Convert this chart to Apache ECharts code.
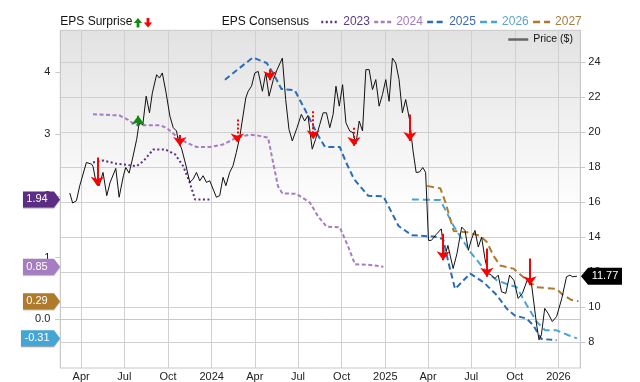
<!DOCTYPE html>
<html><head><meta charset="utf-8">
<script src="https://cdn.jsdelivr.net/npm/echarts@6/dist/echarts.min.js"></script>
<style>html,body{margin:0;padding:0;background:#fff}#c{width:640px;height:382px}</style>
</head><body><div id="c"></div>
<script>
const FONT = "'Liberation Sans', Arial, sans-serif";

// Price ($) weekly closes [date, price]
const priceData = [
['2023-03-08',16.53],['2023-03-14',15.96],['2023-03-22',16.09],['2023-03-29',16.95],
['2023-04-12',18.28],['2023-04-23',18.18],['2023-04-26',18.05],['2023-05-03',17.04],
['2023-05-09',16.95],['2023-05-17',17.71],['2023-05-25',16.38],['2023-06-01',17.14],
['2023-06-13',17.94],['2023-06-20',16.29],['2023-06-29',17.52],['2023-07-04',17.99],
['2023-07-11',17.67],['2023-07-18',18.47],['2023-07-27',19.60],['2023-08-01',20.51],
['2023-08-09',20.46],['2023-08-16',22.07],['2023-08-23',21.12],['2023-08-29',22.26],
['2023-09-07',23.30],['2023-09-13',23.11],['2023-09-19',23.40],['2023-09-27',22.26],
['2023-10-05',20.93],['2023-10-12',20.27],['2023-10-19',20.08],['2023-10-22',19.60],
['2023-10-30',19.04],['2023-11-03',18.94],['2023-11-08',18.09],['2023-11-16',17.14],
['2023-11-23',17.33],['2023-11-30',17.71],['2023-12-07',17.23],['2023-12-14',17.52],
['2023-12-21',17.14],['2023-12-28',17.23],['2024-01-04',16.76],['2024-01-11',16.29],
['2024-01-18',16.38],['2024-01-25',17.43],['2024-01-31',16.95],['2024-02-08',17.71],
['2024-02-15',18.09],['2024-02-22',18.85],['2024-02-29',19.70],['2024-03-07',20.93],
['2024-03-13',21.98],['2024-03-18',22.35],['2024-03-25',22.64],['2024-04-01',23.40],
['2024-04-08',23.49],['2024-04-17',22.35],['2024-04-24',23.40],['2024-05-01',22.07],
['2024-05-10',23.02],['2024-05-18',23.59],['2024-05-29',24.25],['2024-06-05',21.88],
['2024-06-12',20.17],['2024-06-19',19.51],['2024-06-29',20.27],['2024-07-08',21.03],
['2024-07-15',20.65],['2024-07-22',20.97],['2024-07-31',19.04],['2024-08-07',19.60],
['2024-08-16',20.46],['2024-08-23',21.12],['2024-08-30',21.12],['2024-09-06',20.27],
['2024-09-13',21.03],['2024-09-19',22.64],['2024-09-26',21.50],['2024-10-03',22.73],
['2024-10-10',20.55],['2024-10-18',20.08],['2024-10-25',19.98],['2024-10-31',19.32],
['2024-11-07',20.65],['2024-11-14',20.08],['2024-11-21',23.59],['2024-11-28',23.59],
['2024-12-05',22.45],['2024-12-12',23.02],['2024-12-19',21.50],['2024-12-26',22.16],
['2025-01-02',23.02],['2025-01-09',21.78],['2025-01-16',24.25],['2025-01-23',23.97],
['2025-01-30',23.02],['2025-02-06',21.12],['2025-02-13',21.88],['2025-02-21',20.74],
['2025-02-28',19.04],['2025-03-07',17.71],['2025-03-14',17.73],['2025-03-21',17.99],
['2025-03-27',17.71],['2025-04-02',13.82],['2025-04-08',13.82],['2025-04-18',14.15],
['2025-04-29',14.48],['2025-05-06',12.87],['2025-05-13',13.53],['2025-05-24',12.21],
['2025-06-01',13.06],['2025-06-11',14.58],['2025-06-18',14.39],['2025-06-25',13.25],
['2025-07-02',13.92],['2025-07-09',14.39],['2025-07-16',13.44],['2025-07-23',14.01],
['2025-07-30',12.78],['2025-08-06',11.92],['2025-08-13',11.83],['2025-08-20',11.64],
['2025-08-27',11.83],['2025-09-03',10.88],['2025-09-12',10.79],['2025-09-20',11.83],
['2025-09-29',11.54],['2025-10-08',10.50],['2025-10-17',10.79],['2025-10-27',11.54],
['2025-11-05',11.36],['2025-11-16',8.98],['2025-11-21',8.13],['2025-11-26',8.42],
['2025-12-03',9.93],['2025-12-10',9.65],['2025-12-19',9.18],['2025-12-28',9.46],
['2026-01-08',10.50],['2026-01-18',11.74],['2026-01-25',11.83],['2026-01-31',11.74],
['2026-02-09',11.77]
];

// EPS consensus by fiscal year [date, EPS]
const eps2023 = [
['2023-04-26',2.54],['2023-05-17',2.57],['2023-06-14',2.52],['2023-07-27',2.48],
['2023-08-10',2.56],['2023-08-31',2.75],['2023-09-25',2.75],['2023-10-16',2.67],
['2023-11-02',2.48],['2023-11-16',2.21],['2023-11-27',1.94],['2023-12-28',1.94]
];
const eps2024 = [
['2023-04-26',3.32],['2023-06-21',3.30],['2023-07-09',3.23],['2023-07-23',3.15],
['2023-08-10',3.14],['2023-09-14',3.14],['2023-09-28',3.10],['2023-10-19',2.96],
['2023-11-09',2.86],['2023-11-30',2.79],['2023-12-28',2.79],['2024-01-25',2.83],
['2024-02-22',2.94],['2024-03-21',2.99],['2024-04-11',2.97],['2024-04-29',2.94],
['2024-05-10',2.52],['2024-05-20',2.15],['2024-05-29',2.04],['2024-06-28',2.03],
['2024-07-26',1.89],['2024-08-12',1.67],['2024-08-30',1.50],['2024-09-27',1.49],
['2024-10-15',1.17],['2024-10-29',0.89],['2024-11-30',0.88],['2024-12-28',0.85]
];
const eps2025 = [
['2024-01-29',3.88],['2024-02-29',4.07],['2024-03-28',4.24],['2024-04-26',4.15],
['2024-05-10',3.98],['2024-05-27',3.73],['2024-06-24',3.71],['2024-07-12',3.45],
['2024-07-30',3.18],['2024-08-09',3.02],['2024-08-27',2.79],['2024-09-27',2.79],
['2024-10-11',2.53],['2024-10-27',2.27],['2024-11-26',2.00],['2024-12-28',1.99],
['2025-01-11',1.78],['2025-01-29',1.51],['2025-02-26',1.36],['2025-04-12',1.34],
['2025-05-03',1.30],['2025-05-14',0.92],['2025-05-28',0.49],['2025-06-29',0.74],
['2025-07-27',0.60],['2025-08-24',0.39],['2025-09-14',0.17],['2025-10-01',0.06],
['2025-10-26',0.01],['2025-11-09',-0.10],['2025-11-26',-0.32],['2025-12-28',-0.34]
];
const eps2026 = [
['2025-02-26',1.94],['2025-04-27',1.93],['2025-05-25',1.51],['2025-06-29',1.09],
['2025-08-03',0.76],['2025-08-24',0.63],['2025-09-14',0.57],['2025-10-05',0.52],
['2025-10-26',0.23],['2025-11-16',-0.04],['2025-12-04',-0.18],['2025-12-28',-0.18],
['2026-01-22',-0.26],['2026-02-09',-0.31]
];
const eps2027 = [
['2025-03-30',2.16],['2025-04-27',2.12],['2025-05-08',1.89],['2025-05-25',1.43],
['2025-06-22',1.41],['2025-07-20',1.35],['2025-08-03',1.25],['2025-08-17',1.03],
['2025-08-31',0.87],['2025-09-28',0.82],['2025-10-19',0.68],['2025-11-16',0.52],
['2025-12-28',0.49],['2026-01-11',0.39],['2026-01-29',0.31],['2026-02-12',0.29]
];

// EPS surprise arrows drawn on the price scale: [date, from, to, style, direction]
const surprises = [
['2023-05-05',18.56,16.95,'solid','down'],
['2023-07-30',20.35,20.95,'solid','up'],
['2023-10-26',19.85,19.22,'solid','down'],
['2024-02-24',20.74,19.42,'dotted','down'],
['2024-05-03',23.60,22.98,'solid','down'],
['2024-08-02',21.21,19.60,'dotted','down'],
['2024-10-27',20.27,19.22,'dotted','down'],
['2025-02-22',21.03,19.51,'solid','down'],
['2025-05-03',14.20,12.68,'solid','down'],
['2025-08-03',13.35,11.74,'solid','down'],
['2025-11-02',12.78,11.26,'solid','down']
];

const epsTicks = [0,1,2,3,4];
const priceTicks = [8,10,12,14,16,18,20,22,24];
const yearNames = ['2023','2024','2025','2026','2027'];
const monthNames = ['Jan','Feb','Mar','Apr','May','Jun','Jul','Aug','Sep','Oct','Nov','Dec'];

const epsSets = [eps2023, eps2024, eps2025, eps2026, eps2027];
const lineColors = ['#5c2d84','#a67dc2','#2b6cb8','#45a6d6','#b07a2d'];
const textColors = ['#5b3a87','#a27bbd','#3b68ad','#5ba5cf','#a97c3d'];
const dashes = [[2,2.5],[4,2.5],[6,3.5],[7,4],[7,4]];
const badgeYears = ['2023','2024','2027','2026'];

const chart = echarts.init(document.getElementById('c'));

const series = epsSets.map((d,i)=>({
  name: yearNames[i], type:'line', yAxisIndex:0, data:d, symbol:'none',
  lineStyle:{color:lineColors[i], width:2, type:dashes[i]}, itemStyle:{color:lineColors[i]},
  silent:true, z:2
}));
series.push({
  name:'Price ($)', type:'line', yAxisIndex:1, data:priceData, symbol:'none',
  lineStyle:{color:'#111', width:1}, itemStyle:{color:'#111'}, silent:true, z:3,
  markLine:{
    silent:true, symbol:['none','arrow'], symbolSize:[10,9], animation:false,
    label:{show:false}, emphasis:{disabled:true},
    data: surprises.map(s=>{
      const col = s[4]==='up' ? '#118a11' : '#ff0000';
      return [{coord:[s[0],s[1]], lineStyle:{color:col, width:2, type:s[3]==='dotted'?[2,2]:'solid'}, itemStyle:{color:col}},
              {coord:[s[0],s[2]]}];
    })
  }
});

const hiddenSymbol = {color:'rgba(0,0,0,0)', borderColor:'rgba(0,0,0,0)', borderWidth:0, opacity:0};

chart.setOption({
  animation:false,
  textStyle:{fontFamily:FONT},
  grid:{left:60.3, right:59.7, top:30.3, bottom:12, show:true, borderColor:'#c8c8c8', borderWidth:1,
    backgroundColor:new echarts.graphic.LinearGradient(0,0,0,1,[{offset:0,color:'#e2e2e2'},{offset:0.55,color:'#ffffff'},{offset:1,color:'#ffffff'}])},
  legend:[{
    data: yearNames.map((n,i)=>({name:n, textStyle:{color:textColors[i]}, itemStyle:hiddenSymbol})),
    left:320, top:16, padding:0, itemGap:3, itemWidth:17, itemHeight:12, selectedMode:false,
    itemStyle:hiddenSymbol, lineStyle:{width:2.5},
    textStyle:{fontSize:12, fontFamily:FONT}
  },{
    data:[{name:'Price ($)', lineStyle:{color:'#666', width:2.5}, itemStyle:hiddenSymbol}],
    left:507, top:34, padding:0, itemWidth:20, itemHeight:12, selectedMode:false,
    itemStyle:hiddenSymbol,
    textStyle:{fontSize:10.5, color:'#111', fontFamily:FONT}
  }],
  xAxis:{
    type:'time', min:'2023-02-16', max:'2026-02-16', splitNumber:12,
    minInterval:80*86400000, maxInterval:100*86400000,
    axisLine:{show:true, lineStyle:{color:'#c8c8c8'}}, axisTick:{show:false},
    splitLine:{show:true, lineStyle:{color:'#d0d0d0', width:1}},
    axisLabel:{margin:3, fontSize:11, color:'#222', fontFamily:FONT, showMinLabel:false, showMaxLabel:false,
      formatter:(v)=>{const d=new Date(v); return d.getMonth()===0 ? String(d.getFullYear()) : monthNames[d.getMonth()];}}
  },
  yAxis:[{
    type:'value', position:'left', min:-0.79, max:4.68, minInterval:1, maxInterval:1,
    axisLine:{show:true, lineStyle:{color:'#c8c8c8'}},
    axisTick:{show:true, length:5, lineStyle:{color:'#c8c8c8'}, customValues:epsTicks},
    axisLabel:{customValues:epsTicks, margin:10, fontSize:11, color:'#222', fontFamily:FONT,
      formatter:(v)=> v===0 ? '0.0' : String(v)},
    splitLine:{show:false}
  },{
    type:'value', position:'right', min:6.52, max:25.84, minInterval:2, maxInterval:2,
    axisLine:{show:true, lineStyle:{color:'#c8c8c8'}},
    axisTick:{show:true, length:5, lineStyle:{color:'#c8c8c8'}, customValues:priceTicks},
    axisLabel:{customValues:priceTicks, margin:8, fontSize:11, color:'#222', fontFamily:FONT},
    splitLine:{show:true, lineStyle:{color:'#d0d0d0', width:1}}
  }],
  series
});

// Legend decorations and value badges placed through the library's scales
const g = [];
g.push({type:'text', left:60.3, top:16, style:{text:'EPS Surprise', fontSize:12, fontFamily:FONT, fill:'#111'}});
g.push({type:'polygon', shape:{points:[[138,18],[142.2,23],[139.4,23],[139.4,27.5],[136.6,27.5],[136.6,23],[133.8,23]]}, style:{fill:'#118a11'}});
g.push({type:'polygon', shape:{points:[[148,27.5],[152.2,22.5],[149.4,22.5],[149.4,18],[146.6,18],[146.6,22.5],[143.8,22.5]]}, style:{fill:'#ff0000'}});
g.push({type:'text', left:221.7, top:16, style:{text:'EPS Consensus', fontSize:12, fontFamily:FONT, fill:'#111'}});

badgeYears.forEach(name=>{
  const idx = yearNames.indexOf(name);
  const arr = epsSets[idx];
  const val = arr[arr.length-1][1];
  const y = chart.convertToPixel({yAxisIndex:0}, val);
  const left = val < 0 ? 21 : 23;
  g.push({type:'polygon', z:100, shape:{points:[[left,y-8],[54,y-8],[60,y],[54,y+8],[left,y+8]]},
    style:{fill:lineColors[idx], shadowColor:'rgba(0,0,0,0.35)', shadowOffsetY:1, shadowBlur:1}});
  g.push({type:'text', z:101, x:37, y:y, style:{text:val.toFixed(2), fill:'#fff', fontSize:11, fontFamily:FONT, align:'center', verticalAlign:'middle'}});
});
const lastPrice = priceData[priceData.length-1][1];
const py = chart.convertToPixel({yAxisIndex:1}, lastPrice);
g.push({type:'polygon', z:100, shape:{points:[[581,py],[588,py-8.5],[622,py-8.5],[622,py+8.5],[588,py+8.5]]}, style:{fill:'#000'}});
g.push({type:'text', z:101, x:605, y:py, style:{text:lastPrice.toFixed(2), fill:'#fff', fontSize:11, fontFamily:FONT, align:'center', verticalAlign:'middle'}});
chart.setOption({graphic:g});
</script></body></html>
